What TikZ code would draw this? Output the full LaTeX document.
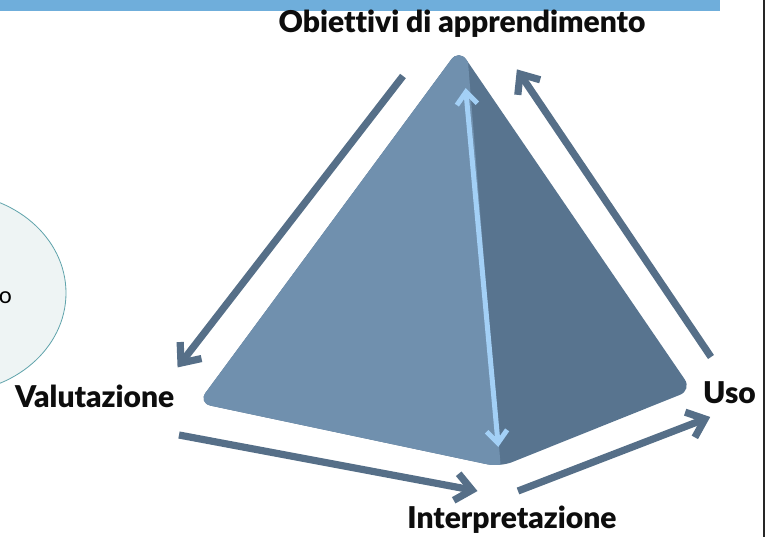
\documentclass[tikz,border=0pt]{standalone}
\usepackage{fontspec}
\setmainfont{Lato}[Ligatures=NoCommon, BoldFont={Lato Black}]
\usetikzlibrary{calc}
\definecolor{barblue}{HTML}{6FAEDB}
\definecolor{faceL}{HTML}{7090AE}
\definecolor{faceR}{HTML}{58748F}
\definecolor{arrowdark}{HTML}{566F88}
\definecolor{arrowlight}{HTML}{A3D0F6}
\definecolor{ellfill}{HTML}{EEF4F4}
\definecolor{ellline}{HTML}{5FA3AB}
\tikzset{
  lbl/.style={font=\bfseries\fontsize{30}{33}\selectfont, text=black!95, inner sep=0pt},
  dshaft/.style={draw=arrowdark, line width=7.2pt},
  dhead/.style={draw=arrowdark, line width=7.2pt, line join=miter, miter limit=10},
  lshaft/.style={draw=arrowlight, line width=5pt},
  lhead/.style={draw=arrowlight, line width=5pt, line join=miter, miter limit=10}
}
\newcommand\darrowhead[2]{\draw[dhead] ($(#1)!21pt!40:(#2)$) -- (#1) -- ($(#1)!21pt!-40:(#2)$);}
\newcommand\larrowhead[2]{\draw[lhead] ($(#1)!16pt!40:(#2)$) -- (#1) -- ($(#1)!16pt!-40:(#2)$);}
\begin{document}
\begin{tikzpicture}[x=1pt,y=-1pt]
\useasboundingbox (0,0) rectangle (769,537);
% top bar and border
\fill[barblue] (0,0) rectangle (720,11);
\draw[black!85, line width=1.6pt] (764,0) -- (764,537);
% left ellipse
\begin{scope}
\clip (0,0) rectangle (769,537);
\draw[ellline, fill=ellfill, line width=0.8pt] (-50,293) ellipse [x radius=116, y radius=100];
\end{scope}
\node[font=\fontsize{23}{25}\selectfont, anchor=east, inner sep=0pt] (otext) at (12,298) {o};
% pyramid
\coordinate (apex) at (459,49);
\coordinate (lc) at (198,403);
\coordinate (bc) at (500,467);
\coordinate (rc) at (692,390);
\fill[faceR, rounded corners=13pt] (bc) -- (lc) -- (apex) -- (rc) -- cycle;
\begin{scope}
\clip[rounded corners=13pt] (bc) -- (lc) -- (apex) -- (rc) -- cycle;
\fill[faceL] (0,0) -- (463,0) -- (505,520) -- (0,520) -- cycle;
\end{scope}
% labels
\node[lbl] (obj) at (462,24) {Obiettivi di apprendimento};
\node[lbl, anchor=west] (val) at (15,396) {Valutazione};
\node[lbl, anchor=west] (uso) at (703,393) {Uso};
\node[lbl] (int) at (512,520) {Interpretazione};
% arrows
\coordinate (a1s) at (403,76);  \coordinate (a1e) at (181,363);
\coordinate (a2s) at (711,357); \coordinate (a2e) at (520,74);
\coordinate (a3s) at (179,435); \coordinate (a3e) at (472,490);
\coordinate (a4s) at (518,491); \coordinate (a4e) at (705,419);
\coordinate (a5s) at (466,92);  \coordinate (a5e) at (498,443);
\draw[dshaft] (a1s) -- ($(a1e)!3pt!(a1s)$);
\darrowhead{a1e}{a1s}
\draw[dshaft] (a2s) -- ($(a2e)!3pt!(a2s)$);
\darrowhead{a2e}{a2s}
\draw[dshaft] (a3s) -- ($(a3e)!3pt!(a3s)$);
\darrowhead{a3e}{a3s}
\draw[dshaft] (a4s) -- ($(a4e)!3pt!(a4s)$);
\darrowhead{a4e}{a4s}
\draw[lshaft] ($(a5s)!2pt!(a5e)$) -- ($(a5e)!2pt!(a5s)$);
\larrowhead{a5s}{a5e}
\larrowhead{a5e}{a5s}
\end{tikzpicture}
\end{document}
